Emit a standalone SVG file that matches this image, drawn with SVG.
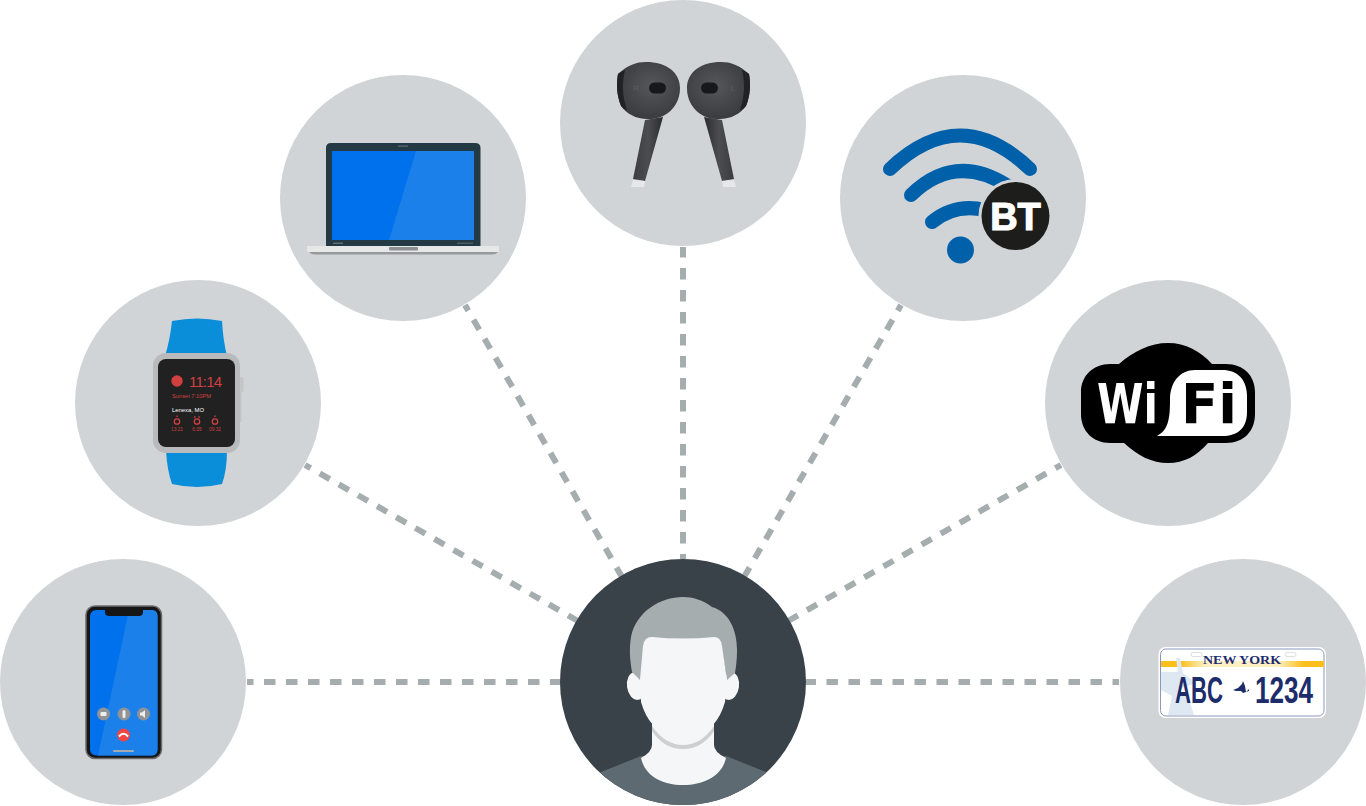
<svg xmlns="http://www.w3.org/2000/svg" width="1366" height="806" viewBox="0 0 1366 806">
<style>
.c{fill:#d1d4d6}
.l{stroke:#a5adaf;stroke-width:6;stroke-dasharray:11.500 10.500;stroke-dashoffset:5;fill:none}
.s{font-family:"Liberation Sans",Arial,sans-serif}
.r{fill:#d14040}
.d{font-family:"DejaVu Sans",Verdana,sans-serif;font-weight:700}
.p{font-family:"Liberation Sans Narrow","Liberation Sans",Arial,sans-serif;font-weight:700;fill:#1d2c6b}
</style>
<defs>
<clipPath id="hc"><circle cx="683" cy="682" r="123"/></clipPath>
<radialGradient id="bud" cx=".55" cy=".42" r=".65"><stop offset="0" stop-color="#56575b"/><stop offset="1" stop-color="#37383c"/></radialGradient>
<linearGradient id="stem" x1="0" x2="1" y1="0" y2="0"><stop offset="0" stop-color="#3b3c40"/><stop offset=".5" stop-color="#4c4d51"/><stop offset="1" stop-color="#2b2c30"/></linearGradient>
<linearGradient id="band" x1="0" x2="1" y1="0" y2="0"><stop offset="0" stop-color="#fdbf1c"/><stop offset=".12" stop-color="#fdbf1c"/><stop offset=".27" stop-color="#fdefc2"/><stop offset=".72" stop-color="#fdefc2"/><stop offset=".87" stop-color="#fdbf1c"/><stop offset="1" stop-color="#fdbf1c"/></linearGradient>
<g id="budShape">
<path d="M645 120L663 117L645 181L633 179Z" fill="url(#stem)"/>
<path d="M633 180L645 181L644 187H631Z" fill="#e6e7e8"/>
<path d="M618 74C628 65 636 62 646 62C666 62 680 72 680 88C680 105 668 118 651 119C637 120 627 114 621 106C617 96 616 85 618 74Z" fill="url(#bud)"/>
<path d="M618 74C620 72 623 71 625 70C622 82 622 96 627 110C624 109 623 108 621 106C617 96 616 85 618 74Z" fill="#212226"/>
<rect x="649" y="82.500" width="17" height="11" rx="5.500" fill="#17181a"/>
</g>
</defs>
<rect width="1366" height="806" fill="#fff"/>
<g id="connectors">
<line class="l" x1="247" y1="682" x2="560" y2="682"/>
<line class="l" x1="305" y1="465" x2="578" y2="621"/>
<line class="l" x1="465" y1="305" x2="622" y2="577"/>
<line class="l" x1="683" y1="247" x2="683" y2="559" style="stroke-dashoffset:1"/>
<line class="l" x1="901" y1="305" x2="744" y2="577"/>
<line class="l" x1="1061" y1="465" x2="788" y2="621"/>
<line class="l" x1="1119" y1="682" x2="806" y2="682"/>
</g>
<g id="phone">
<circle class="c" cx="123" cy="682" r="123"/>
<rect x="86" y="606" width="75.500" height="152.500" rx="9" fill="#161616" stroke="#6c6c6c" stroke-width="1.500"/>
<rect x="90" y="610" width="67.500" height="145.500" rx="6" fill="#0071ed"/>
<path d="M129 610H151.500Q157.500 610 157.500 616V749.500Q157.500 755.500 151.500 755.500H98Z" fill="#1c80ea"/>
<path d="M105 610H143V612Q143 616 139 616H109Q105 616 105 612Z" fill="#161616"/>
<circle cx="103.500" cy="714" r="6.500" fill="#8f9296"/><rect x="100.500" y="712" width="6" height="4" rx=".8" fill="#eee"/>
<circle cx="124" cy="714" r="6.500" fill="#8f9296"/><rect x="122.500" y="710" width="3" height="8" rx="1.500" fill="#eee"/>
<circle cx="143.500" cy="714" r="6.500" fill="#8f9296"/><path d="M140 712.500h2l3-2.500v8l-3-2.500h-2z" fill="#eee"/>
<circle cx="123.500" cy="735" r="6.500" fill="#f04545"/>
<path d="M119 736.500Q123.500 731 128 736.500" fill="none" stroke="#fff" stroke-width="2"/>
<rect x="113" y="750" width="21" height="2" rx="1" fill="#a6abb2"/>
</g>
<g id="watch">
<circle class="c" cx="198" cy="403" r="123"/>
<path d="M172 321Q197 316 222 321Q223 340 227 356H165Q170 340 172 321Z" fill="#0a8ed9"/>
<path d="M166 450H227Q227 470 222 484Q197 490 172 484Q167 470 166 450Z" fill="#0a8ed9"/>
<rect x="237" y="377" width="6.500" height="15" rx="2.500" fill="#c4c6c7"/>
<rect x="238" y="392" width="3.500" height="30" fill="#c4c6c7"/>
<rect x="153" y="353" width="87" height="100" rx="13" fill="#b8babb"/>
<rect x="158" y="359" width="77" height="88" rx="8" fill="#212122"/>
<circle cx="177" cy="381" r="5.700" fill="#d14040"/>
<text class="s r" x="189" y="387" font-size="15" textLength="33" lengthAdjust="spacing">11:14</text>
<text class="s r" x="172" y="398" font-size="5.500" textLength="39" lengthAdjust="spacingAndGlyphs">Sunset 7:10PM</text>
<text class="s" x="172" y="412" font-size="5.800" fill="#fff" textLength="32" lengthAdjust="spacingAndGlyphs">Lenexa, MO</text>
<g fill="none" stroke="#d14040" stroke-width="1.300"><circle cx="177" cy="421.500" r="2.700"/><path d="M177 417v-1.500"/><circle cx="197" cy="421.500" r="2.700"/><path d="M194 417.500l1.500-1M200 417.500l-1.500-1"/><circle cx="215" cy="421.500" r="2.700"/><path d="M215 417v-1.500"/></g>
<text class="s r" x="177" y="431" font-size="4.800" text-anchor="middle">13:21</text>
<text class="s r" x="197" y="431" font-size="4.800" text-anchor="middle">6:35</text>
<text class="s r" x="215" y="431" font-size="4.800" text-anchor="middle">09:32</text>
</g>
<g id="laptop">
<circle class="c" cx="403" cy="198" r="123"/>
<path d="M326 249V148Q326 143 331 143H475Q480.500 143 480.500 148V249Z" fill="#233a44"/>
<rect x="332" y="151" width="142" height="89" fill="#0071ed"/>
<path d="M416 151H474V240H389Z" fill="#1c80ea"/>
<rect x="398" y="145.500" width="10" height="1.200" fill="#5c6c74"/>
<rect x="333" y="242.500" width="10" height="1.500" fill="#5c6c74"/>
<rect x="457" y="242.500" width="16" height="1.500" fill="#4a5c65"/>
<rect x="307" y="246" width="192" height="6" fill="#e6e7e7"/>
<path d="M309 252H498Q496 254.500 492 254.500H315Q311 254.500 309 252Z" fill="#979a9c"/>
<rect x="389" y="247" width="29" height="3.500" rx="1" fill="#8d9194"/>
</g>
<g id="earbuds">
<circle class="c" cx="683" cy="123" r="123"/>
<use href="#budShape"/>
<use href="#budShape" transform="translate(1367 0) scale(-1 1)"/>
<text class="s" x="636" y="91" font-size="8" text-anchor="middle" fill="#5c5d60">R</text>
<text class="s" x="733" y="91" font-size="8" text-anchor="middle" fill="#5c5d60">L</text>
</g>
<g id="wifi-bt">
<circle class="c" cx="963" cy="198" r="123"/>
<g fill="none" stroke="#0060a9" stroke-width="14" stroke-linecap="round">
<path d="M890 169Q960 102 1030 169"/>
<path d="M911 195Q955 152 1008 186"/>
<path d="M932 222Q955 203 985 210"/>
</g>
<circle cx="960.500" cy="250" r="13.500" fill="#0060a9"/>
<circle cx="1015.500" cy="216" r="37" fill="#d1d4d6"/>
<circle cx="1015.500" cy="216" r="34" fill="#1d1d1b"/>
<text class="s" x="1015.500" y="230" font-weight="700" font-size="38" fill="#fff" text-anchor="middle" stroke="#fff" stroke-width="1.200">BT</text>
</g>
<g id="wifi">
<circle class="c" cx="1168" cy="403" r="123"/>
<path d="M1110 364H1119C1134 351 1150 343 1168 343C1186 343 1200 351 1212 364H1226C1244 364 1255 376 1255 392V414C1255 431 1244 443 1226 443H1208C1197 456 1184 463 1168 463C1152 463 1138 456 1124 443H1110C1093 443 1081 431 1081 414V392C1081 376 1093 364 1110 364Z" fill="#000"/>
<path d="M1157 436C1168 430 1170 420 1170 400C1170 382 1180 370 1195 370H1222C1238 370 1247 380 1247 396V412C1247 428 1238 436 1222 436Z" fill="#fff"/>
<text class="d" x="1097" y="423" font-size="55" fill="#fff" textLength="61" lengthAdjust="spacingAndGlyphs">Wi</text>
<text class="d" x="1181" y="423" font-size="55" fill="#000" textLength="56" lengthAdjust="spacingAndGlyphs">Fi</text>
</g>
<g id="plate">
<circle class="c" cx="1243" cy="682" r="123"/>
<rect x="1158.500" y="647" width="167.500" height="71" rx="7" fill="#fff"/>
<rect x="1160.500" y="649" width="163.500" height="67" rx="5.500" fill="#fff" stroke="#8a97bb" stroke-width="1"/>
<rect x="1161" y="661" width="163" height="6" fill="url(#band)"/>
<path d="M1161 672L1178 672L1176 658H1180L1183 673L1192 680L1194 684L1181 688L1180 694L1188 697L1194 715H1168L1172 696L1161 690Z" fill="#dde8f2"/>
<rect x="1191" y="652.500" width="11" height="4" rx="2" fill="#fff" stroke="#d5d7da" stroke-width=".8"/>
<rect x="1285" y="652.500" width="11" height="4" rx="2" fill="#fff" stroke="#d5d7da" stroke-width=".8"/>
<text x="1203" y="663.500" font-family="'Liberation Serif','Times New Roman',serif" font-weight="700" font-size="13" fill="#1d2c6b" textLength="78" lengthAdjust="spacingAndGlyphs">NEW YORK</text>
<text class="p" x="1175" y="703" font-size="37" textLength="48" lengthAdjust="spacingAndGlyphs">ABC</text>
<text class="p" x="1255" y="703" font-size="37" textLength="58" lengthAdjust="spacingAndGlyphs">1234</text>
<path d="M1233 690L1238 688L1242 684L1243 681L1245 686L1246 692L1249 689L1249 691L1243 693L1241 691L1236 691Z" fill="#1d2c6b"/>
</g>
<g id="user">
<circle cx="683" cy="682" r="123" fill="#394249"/>
<g clip-path="url(#hc)">
<path d="M601 772L641 756H726L766 772V810H600Z" fill="#5e6a72"/>
<path d="M652 722V745Q652 752 641 758C645 776 662 785 683 785C704 785 722 776 726 758Q714 752 714 745V722Z" fill="#f5f6f8"/>
</g>
<path d="M652 726Q665 745 683 745Q701 745 714 726V731Q702 749 683 749Q664 749 652 731Z" fill="#cdcfd1"/>
<ellipse cx="636" cy="686" rx="9" ry="14" fill="#f5f6f8" transform="rotate(-8 636 686)"/>
<ellipse cx="730" cy="686" rx="9" ry="14" fill="#f5f6f8" transform="rotate(8 730 686)"/>
<path d="M640 680L632 672C630 660 629 650 631 637C636 612 660 597 683 597C693 597 703 600 712 607C729 612 737 630 737 650C737 660 736 667 735 673L727 680L722 650L653 650Z" fill="#a5adaf"/>
<path d="M652 637Q683 640 714 637Q721 637 722 646L727 680L725 702Q721 716 713 725C700 744 666 744 653 725Q645 716 641 702L640 680L643 646Q644 637 652 637Z" fill="#f5f6f8"/>
</g>
</svg>
